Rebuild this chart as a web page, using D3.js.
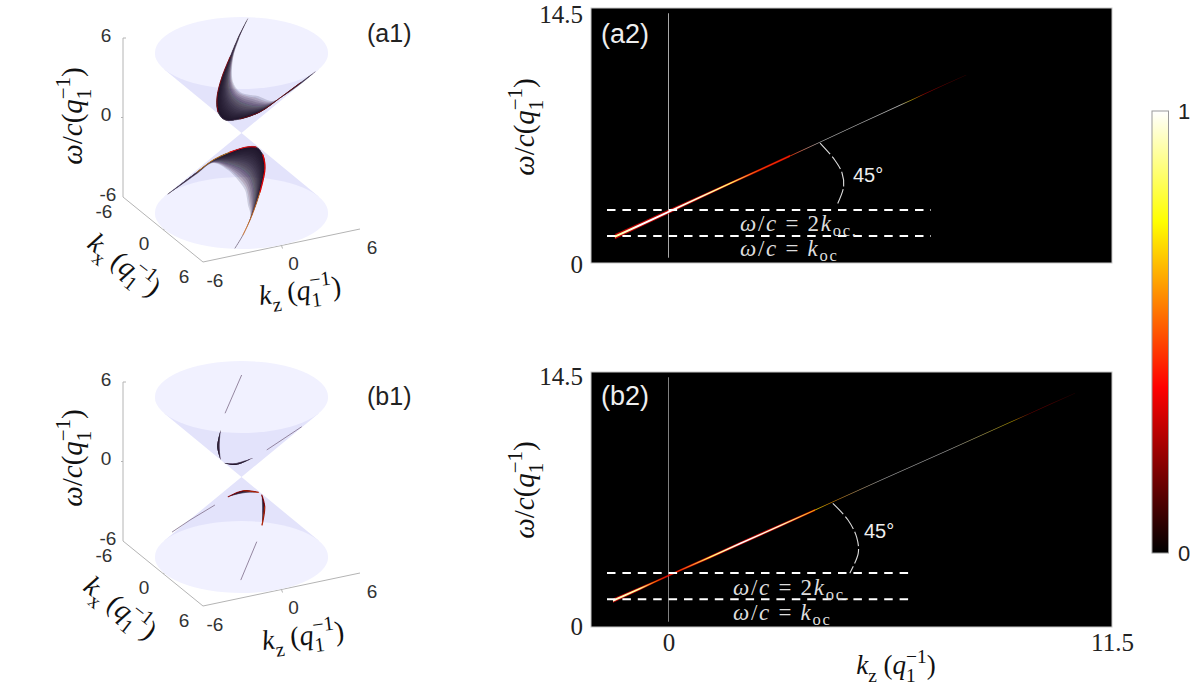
<!DOCTYPE html>
<html>
<head>
<meta charset="utf-8">
<script src="https://cdn.jsdelivr.net/npm/d3@7"></script>
<style>
html, body { margin: 0; background: #fff; }
svg { display: block; }
text { font-family: "Liberation Sans", sans-serif; }
.serif { font-family: "Liberation Serif", serif; }
</style>
</head>
<body>
<svg id="fig" width="1196" height="687"></svg>
<script>
// colour bar
const hotStops = [0, 0.375, 0.75, 1];
const hotColors = ["#000000", "#ff0000", "#ffff00", "#ffffff"];
const barTicks = [0, 1];

// 3d panels, tick labels
const cubeTicks = [-6, 0, 6];
const coneRim = 5.9;
const coneHeight = 6;

// a1 bright bands, projected (h, v) in q1^-1, band edge and fade edge
const a1TopH = [0.42, -0.24, -0.78, -1.35, -1.67, -1.60, -1.12, -0.10, 1.26, 2.62, 3.99, 5.01];
const a1TopV = [8.55, 7.13, 5.70, 4.13, 2.63, 1.58, 0.98, 1.05, 1.58, 2.63, 3.75, 4.58];
const a1TopFadeH = [0.42, -0.17, -0.58, -0.58, -0.10, 0.58, 1.12, 1.60, 2.08, 2.96, 4.05, 5.01];
const a1TopFadeV = [8.55, 7.05, 5.55, 3.83, 3.08, 2.85, 2.78, 2.55, 2.40, 2.85, 3.68, 4.58];
const a1LowH = [-5.01, -4.19, -3.03, -1.94, -0.78, 0.37, 0.99, 1.46, 1.60, 1.26, 0.72, 0.10, -0.44];
const a1LowV = [-4.58, -3.90, -2.93, -2.03, -1.43, -1.05, -1.05, -1.65, -2.63, -4.43, -6.15, -7.65, -8.63];
const a1LowFadeH = [-5.01, -4.19, -3.03, -1.94, -0.92, -0.24, 0.24, 0.37, 0.44, 0.58, 0.58, 0.10, -0.44];
const a1LowFadeV = [-4.58, -3.98, -3.08, -2.25, -2.78, -3.53, -4.28, -4.88, -5.40, -5.93, -6.38, -7.65, -8.63];

// b1 short arcs
const b1ArcsH = [[-1.42, -1.65, -1.42], [-1.24, -0.44, 0.80], [-0.90, 0.12, 1.14], [1.38, 1.58, 1.40]];
const b1ArcsV = [[3.53, 2.27, 1.28], [1.07, 0.90, 1.45], [-1.48, -1.03, -1.15], [-1.35, -2.23, -3.60]];
const b1ArcsFadeH = [[-1.42, -1.48, -1.42], [-1.24, -0.44, 0.80], [-0.90, 0.12, 1.14], [1.38, 1.40, 1.40]];
const b1ArcsFadeV = [[3.53, 2.27, 1.28], [1.07, 1.05, 1.45], [-1.48, -1.22, -1.15], [-1.35, -2.23, -3.60]];
const b1ThinH = [[0.01, -1.12], [1.72, 4.10], [-1.81, -3.51, -4.73], [1.04, -0.05]];
const b1ThinV = [[7.65, 4.78], [2.03, 3.77], [-2.10, -3.23, -4.13], [-4.85, -7.73]];

// a2 line
const a2K = [-1.39, -0.74, -0.02, 0.81, 1.59, 2.37, 3.15, 3.93, 4.96, 6.0, 6.31, 6.64, 7.17, 7.72];
const a2W = [1.50, 2.16, 2.89, 3.73, 4.52, 5.30, 6.09, 6.87, 7.92, 8.97, 9.28, 9.62, 10.15, 10.69];
const a2I = [0.9, 1, 1, 0.95, 0.85, 0.5, 0.45, 1, 1, 1, 0.7, 0.3, 0.25, 0.12];
const a2D = [1.0, 0.9, 0.8, 0.6, 0.45, 0.35, 0.3, 0.2, 0.2, 0.2, 0.2, 0.2, 0.15, 0.1];
const a2Koc = [1.535, 3.01];
const a2ArcK = [3.93, 4.31, 4.50, 4.54, 4.37];
const a2ArcW = [6.82, 5.86, 5.12, 4.32, 3.30];

// b2 line
const b2K = [-1.44, -0.74, -0.35, -0.02, 0.29, 1.07, 1.85, 2.89, 3.80, 4.26, 5.48, 7.30, 8.91, 9.37, 9.89, 10.54];
const b2W = [1.50, 2.18, 2.57, 2.90, 3.21, 3.97, 4.74, 5.76, 6.65, 7.12, 8.32, 10.10, 11.69, 12.14, 12.66, 13.29];
const b2I = [0.95, 0.9, 0.6, 0.45, 0.5, 0.85, 1, 0.95, 0.7, 0.6, 1, 1, 0.7, 0.3, 0.2, 0.1];
const b2D = [0.8, 0.6, 0.3, 0.15, 0.3, 0.5, 0.6, 0.5, 0.3, 0.22, 0.15, 0.15, 0.15, 0.12, 0.1, 0.08];
const b2Koc = [1.575, 3.07];
const b2ArcK = [4.26, 4.65, 4.88, 4.92, 4.70];
const b2ArcW = [7.03, 6.10, 5.10, 4.20, 3.06];

const kDomain = [-2.01, 11.5];
const wDomain = [0, 14.5];
const kTicks = [0, 11.5];
const wTicks = [0, 14.5];

const svg = d3.select("#fig");
const defs = svg.append("defs");
const hot = d3.scaleLinear().domain(hotStops).range(hotColors).clamp(true);

defs.append("filter").attr("id", "soft").append("feGaussianBlur").attr("stdDeviation", 0.45);
defs.append("filter").attr("id", "softer").append("feGaussianBlur").attr("stdDeviation", 0.3);

// math text: list of [string, kind], kind n / i / sub / sup
function mathText(g, x, y, size, fill, parts, anchor, rotate, subDrop) {
    let t = g.append("text")
        .attr("class", "serif")
        .attr("text-anchor", anchor || "middle")
        .attr("fill", fill)
        .attr("font-size", size)
        .attr("transform", `translate(${x},${y}) rotate(${rotate || 0})`);
    let shift = 0;
    parts.forEach(function(p) {
        let target = p[1] === "sub" ? size * (subDrop || 0.3) : p[1] === "sup" ? -size * 0.42 : 0;
        let s = t.append("tspan").text(p[0]).attr("dy", target - shift);
        shift = target;
        if (p[1] === "i") s.attr("font-style", "italic");
        if (p[1] === "sub" || p[1] === "sup") s.attr("font-size", size * 0.72);
        if (p[2]) s.attr("dx", p[2] * size);
    });
    return t;
}

const qParts = [["(", "n"], ["q", "i"], ["1", "sub"], ["−1", "sup", -0.36], [")", "n"]];
const wLabel = [["ω", "i"], ["/", "n"], ["c", "i"]].concat(qParts);
const kzLabel = [["k", "i"], ["z", "sub"], [" ", "n"]].concat(qParts);
const kxLabel = [["k", "i"], ["x", "sub"], [" ", "n"]].concat(qParts);

// band with soft inner side, stacked thin layers
function band(g, xs, ys, hs, vs, fhs, fvs, layers, alpha, power) {
    let line = d3.line().curve(d3.curveCatmullRom);
    let ridge = hs.map((h, i) => [xs(h), ys(vs[i])]);
    let fade = fhs.map((h, i) => [xs(h), ys(fvs[i])]);
    d3.range(1, layers + 1).forEach(function(n) {
        let t = Math.pow(n / layers, power);
        let edge = ridge.map((p, i) => [p[0] + (fade[i][0] - p[0]) * t, p[1] + (fade[i][1] - p[1]) * t]);
        let d = line(ridge) + "L" + line(edge.slice().reverse()).slice(1) + "Z";
        g.append("path").attr("d", d).attr("fill", "#1c0c26").attr("fill-opacity", alpha);
    });
}

function ridgeStroke(p, hs, vs, from, to, color, width, opacity) {
    let line = d3.line().curve(d3.curveCatmullRom);
    let pts = hs.map((h, i) => [p.hx(h), p.vy(vs[i])]).slice(from, to + 1);
    p.marks.append("path").attr("d", line(pts)).attr("fill", "none")
        .attr("stroke", color).attr("stroke-width", width).attr("stroke-opacity", opacity)
        .attr("stroke-linecap", "round");
}

function conePanel(dy, name, nameY, wLabelY, kzPos, kxPos) {
    let g = svg.append("g").attr("transform", `translate(0,${dy})`);

    let wAxis = d3.scaleLinear().domain([-6, 6]).range([197, 38]);
    let kxX = d3.scaleLinear().domain([-6, 6]).range([123, 203]);
    let kxY = d3.scaleLinear().domain([-6, 6]).range([197, 262]);
    let kzX = d3.scaleLinear().domain([-6, 6]).range([203, 360]);
    let kzY = d3.scaleLinear().domain([-6, 6]).range([262, 229]);
    let hx = d3.scaleLinear().domain([-6, 6]).range([153.4, 329.6]);
    let vy = d3.scaleLinear().domain([-6, 6]).range([213, 53]);

    let axisColor = "#b4b4b4";
    let seg = (a, b, c, d) => g.append("line").attr("x1", a).attr("y1", b).attr("x2", c).attr("y2", d)
        .attr("stroke", axisColor).attr("stroke-width", 1);
    seg(kxX(-6) + 3, wAxis(6), kxX(-6), wAxis(6));
    seg(kxX(-6), wAxis(6), kxX(-6), wAxis(-6));
    seg(kxX(-6), kxY(-6), kxX(6), kxY(6));
    seg(kzX(-6), kzY(-6), kzX(6), kzY(6));
    seg(kxX(-6), wAxis(0), kxX(-6) - 2, wAxis(0));
    seg(kxX(0), kxY(0), kxX(0) + 3, kxY(0) - 1);
    seg(kzX(0), kzY(0), kzX(0) + 1, kzY(0) + 3);

    // cone sides then caps
    let rx = hx(coneRim) - hx(0);
    let ry = rx * 0.415;
    let apex = [hx(0), vy(0)];
    [1, -1].forEach(function(s) {
        let cy = vy(s * coneHeight);
        let dist = Math.abs(apex[1] - cy);
        let off = ry * ry / dist;
        let half = rx * Math.sqrt(1 - off * off / (ry * ry));
        let ty = cy + s * off;
        g.append("path")
            .attr("d", d3.line()([apex, [apex[0] - half, ty], [apex[0] + half, ty]]) + "Z")
            .attr("fill", "#e3e3fb");
        g.append("ellipse").attr("cx", apex[0]).attr("cy", cy).attr("rx", rx).attr("ry", ry)
            .attr("fill", "#f1f1ff");
    });

    cubeTicks.forEach(function(v) {
        g.append("text").attr("x", 106 + (v < 0 ? 2 : 0)).attr("y", wAxis(v) - 3).attr("dy", "0.36em")
            .attr("text-anchor", "middle").attr("font-size", 19).attr("fill", "#333").text(v === -6 ? "-6" : v);
        g.append("text").attr("x", kxX(v) - 19).attr("y", kxY(v) + 14).attr("dy", "0.36em")
            .attr("text-anchor", "middle").attr("font-size", 19).attr("fill", "#333").text(v === -6 ? "-6" : v);
        g.append("text").attr("x", kzX(v) + 12).attr("y", kzY(v) + 18).attr("dy", "0.36em")
            .attr("text-anchor", "middle").attr("font-size", 19).attr("fill", "#333").text(v === -6 ? "-6" : v);
    });

    mathText(g, 82, wLabelY, 29, "#111", wLabel, "middle", -90);
    mathText(g, kzPos[0], kzPos[1], 28, "#111", kzLabel, "middle", -7);
    mathText(g, kxPos[0], kxPos[1], 28, "#111", kxLabel, "middle", 38);
    g.append("text").attr("x", 367).attr("y", nameY).attr("dy", "0.36em")
        .attr("font-size", 25).attr("fill", "#222").text(name);

    let marks = g.append("g").attr("filter", "url(#soft)");
    return { marks: marks, hx: hx, vy: vy };
}

// a1
let a1 = conePanel(0, "(a1)", 33, 116, [301, 300], [119, 272]);
band(a1.marks, a1.hx, a1.vy, a1TopH, a1TopV, a1TopFadeH, a1TopFadeV, 24, 0.15, 1.7);
ridgeStroke(a1, a1TopH, a1TopV, 0, 11, "#5a4a60", 0.8, 0.8);
ridgeStroke(a1, a1TopH, a1TopV, 2, 5, hot(0.2), 1, 0.8);
ridgeStroke(a1, a1TopH, a1TopV, 7, 10, hot(0.15), 1, 0.8);
band(a1.marks, a1.hx, a1.vy, a1LowH, a1LowV, a1LowFadeH, a1LowFadeV, 24, 0.15, 1.7);
ridgeStroke(a1, a1LowH, a1LowV, 0, 12, "#5a4a60", 0.8, 0.8);
ridgeStroke(a1, a1LowH, a1LowV, 2, 4, hot(0.6), 0.8, 0.8);
ridgeStroke(a1, a1LowH, a1LowV, 4, 6, hot(0.38), 1.2, 0.9);
ridgeStroke(a1, a1LowH, a1LowV, 7, 9, hot(0.36), 1.3, 0.9);
ridgeStroke(a1, a1LowH, a1LowV, 9, 11, hot(0.55), 0.8, 0.8);

// b1
let b1 = conePanel(344, "(b1)", 52, 114, [304, 301], [115, 271]);
b1ThinH.forEach(function(hs, i) {
    let pts = hs.map((h, j) => [b1.hx(h), b1.vy(b1ThinV[i][j])]);
    b1.marks.append("path").attr("d", d3.line()(pts)).attr("fill", "none")
        .attr("stroke", "#8a7a95").attr("stroke-width", 0.9);
});
b1ArcsH.forEach(function(hs, i) {
    band(b1.marks, b1.hx, b1.vy, hs, b1ArcsV[i], b1ArcsFadeH[i], b1ArcsFadeV[i], 4, 0.6, 1);
    if (i > 1) {
        ridgeStroke(b1, hs, b1ArcsV[i], 0, 2, hot(0.2), 1.2, 0.9);
        ridgeStroke(b1, hs, b1ArcsV[i], 1, 2, hot(0.5), 0.6, 0.7);
    }
});

// right hand panels
function linePanel(top, kName, ks, ws, is, ds, koc, arcK, arcW, name, nameY, dashEnd, eqX, eqY, degPos, wLabelY, zeroColor, topLabelOffset, zeroLabelOffset) {
    let left = 591, right = 1112, bottom = top + 255;
    let x = d3.scaleLinear().domain(kDomain).range([left, right]);
    let y = d3.scaleLinear().domain(wDomain).range([bottom, top]);
    let g = svg.append("g");

    g.append("rect").attr("x", left).attr("y", top).attr("width", right - left).attr("height", bottom - top)
        .attr("fill", "#000").attr("stroke", "#c8c8c8").attr("stroke-width", 1);

    g.append("line").attr("x1", x(0)).attr("x2", x(0)).attr("y1", y(14.2)).attr("y2", y(0.3))
        .attr("stroke", zeroColor).attr("stroke-width", 1);

    // colour and width along the line come from is / ds
    let gradId = "grad" + kName;
    let x0 = x(ks[0]), x1 = x(ks[ks.length - 1]);
    let fade = d3.scaleLinear().domain([0.08, 0.45]).range([0.5, 1]).clamp(true);
    let grad = defs.append("linearGradient").attr("id", gradId).attr("gradientUnits", "userSpaceOnUse")
        .attr("x1", x0).attr("x2", x1).attr("y1", 0).attr("y2", 0);
    ks.forEach(function(k, i) {
        grad.append("stop").attr("offset", (x(k) - x0) / (x1 - x0)).attr("stop-color", hot(is[i]))
            .attr("stop-opacity", fade(ds[i]));
    });
    let thick = d3.scaleLinear().domain([0, 1]).range([0.5, 3.4]);
    let halo = d3.area().x(d => x(d[0])).y0(d => y(d[1]) - thick(d[2]) * 0.75).y1(d => y(d[1]) + thick(d[2]) * 0.75);
    let core = d3.area().x(d => x(d[0])).y0(d => y(d[1]) - thick(d[2]) * 0.36).y1(d => y(d[1]) + thick(d[2]) * 0.36);
    let rows = ks.map((k, i) => [k, ws[i], ds[i]]);
    let marks = g.append("g").attr("filter", "url(#softer)");
    marks.append("path").attr("d", halo(rows.filter(r => r[2] >= 0.3))).attr("fill", hot(0.36)).attr("fill-opacity", 0.75);
    marks.append("path").attr("d", core(rows)).attr("fill", `url(#${gradId})`);

    koc.forEach(function(v) {
        g.append("line").attr("x1", 607).attr("x2", dashEnd).attr("y1", y(v)).attr("y2", y(v))
            .attr("stroke", "#fff").attr("stroke-width", 2.1).attr("stroke-dasharray", "8.5 6.9");
    });

    let arc = d3.line().curve(d3.curveCatmullRom).x((d, i) => x(d)).y((d, i) => y(arcW[i]));
    g.append("path").attr("d", arc(arcK)).attr("fill", "none").attr("stroke", "#ddd")
        .attr("stroke-width", 1.1).attr("stroke-dasharray", "15 3");
    g.append("text").attr("x", degPos[0]).attr("y", degPos[1]).attr("dy", "0.36em")
        .attr("font-size", 20).attr("fill", "#eee").text("45°");

    mathText(g, eqX, eqY[0], 23, "#ddd", [["ω", "i"], ["/", "n"], ["c", "i"], [" = 2", "n"], ["k", "i"], ["oc", "sub"], [".", "sub"]], "start", 0, 0.2)
        .attr("letter-spacing", "1.7px");
    mathText(g, eqX, eqY[1], 23, "#ddd", [["ω", "i"], ["/", "n"], ["c", "i"], [" = ", "n"], ["k", "i"], ["oc", "sub"]], "start", 0, 0.2)
        .attr("letter-spacing", "1.7px");

    g.append("text").attr("x", left + 10).attr("y", nameY).attr("dy", "0.36em")
        .attr("font-size", 27).attr("fill", "#eee").text(name);

    // axes, only the labels show
    let yAxis = g.append("g").attr("transform", `translate(${left - 8},0)`)
        .call(d3.axisLeft(y).tickValues(wTicks).tickSize(0).tickPadding(0).tickFormat(d3.format("")));
    yAxis.select(".domain").remove();
    yAxis.selectAll("text").attr("font-size", 25).attr("fill", "#222")
        .style("font-family", "'Liberation Serif', serif")
        .attr("dy", d => (d > 0 ? topLabelOffset : zeroLabelOffset) + "px");
    mathText(g, 534, wLabelY, 29, "#111", wLabel, "middle", -90);
    return { x: x, g: g, bottom: bottom };
}

linePanel(8, "a2", a2K, a2W, a2I, a2D, a2Koc, a2ArcK, a2ArcW, "(a2)", 33, 931, 740, [231, 256], [853, 175], 127, "#a8a8a8", 14, 9);
let pb = linePanel(372, "b2", b2K, b2W, b2I, b2D, b2Koc, b2ArcK, b2ArcW, "(b2)", 395, 913, 733, [595, 620], [864, 531], 490, "#808080", 12, 7);

let xAxis = pb.g.append("g").attr("transform", `translate(0,${pb.bottom + 6})`)
    .call(d3.axisBottom(pb.x).tickValues(kTicks).tickSize(0).tickPadding(0).tickFormat(d3.format("")));
xAxis.select(".domain").remove();
xAxis.selectAll("text").attr("font-size", 25).attr("fill", "#222").style("font-family", "'Liberation Serif', serif");
mathText(pb.g, 896, 674, 27, "#111", kzLabel, "middle");

// colour bar
let barY = d3.scaleLinear().domain([0, 1]).range([553, 111]);
let barGrad = defs.append("linearGradient").attr("id", "hotBar").attr("x1", 0).attr("x2", 0).attr("y1", 1).attr("y2", 0);
hotStops.forEach(function(s, i) {
    barGrad.append("stop").attr("offset", s).attr("stop-color", hotColors[i]);
});
svg.append("rect").attr("x", 1152).attr("y", barY(1)).attr("width", 16.5).attr("height", barY(0) - barY(1))
    .attr("fill", "url(#hotBar)").attr("stroke", "#9a9a9a").attr("stroke-width", 1);
barTicks.forEach(function(v) {
    svg.append("text").attr("x", 1184).attr("y", barY(v)).attr("dy", "0.36em")
        .attr("text-anchor", "middle").attr("font-size", 22).attr("fill", "#222").text(v);
});
</script>
</body>
</html>
